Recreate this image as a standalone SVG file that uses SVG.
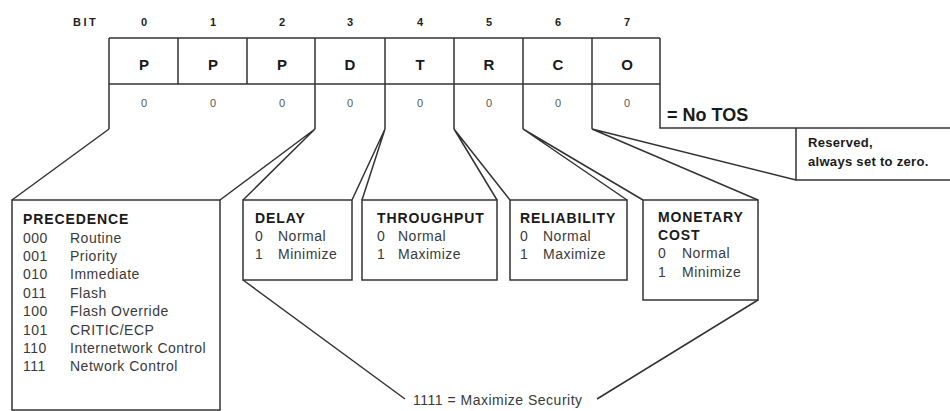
<svg xmlns="http://www.w3.org/2000/svg" width="950" height="411" viewBox="0 0 950 411">
<style>
  .ln{fill:none;stroke:#333;stroke-width:1.5;stroke-linejoin:miter}
  .box{fill:#fff;stroke:#333;stroke-width:1.5}
  .hd{font-family:"Liberation Sans",Arial,sans-serif;font-weight:bold;font-size:14px;fill:#1a1a1a;letter-spacing:0.9px}
  .tx{font-family:"Liberation Sans",Arial,sans-serif;font-size:14px;fill:#3a3a3a;letter-spacing:0.5px}
  .bit{font-family:"Liberation Sans",Arial,sans-serif;font-weight:bold;font-size:11px;fill:#222;text-anchor:middle}
  .cell{font-family:"Liberation Sans",Arial,sans-serif;font-weight:bold;font-size:15px;fill:#1a1a1a;text-anchor:middle}
  .zero{font-family:"Liberation Sans",Arial,sans-serif;font-size:11px;fill:#555;text-anchor:middle}
</style>
<rect width="950" height="411" fill="#fff"/>

<g id="bit-header">
  <text class="bit" x="73" y="26" style="text-anchor:start;letter-spacing:2.5px">BIT</text>
  <text class="bit" x="144" y="26">0</text>
  <text class="bit" x="213" y="26">1</text>
  <text class="bit" x="282" y="26">2</text>
  <text class="bit" x="350" y="26">3</text>
  <text class="bit" x="420" y="26">4</text>
  <text class="bit" x="489" y="26">5</text>
  <text class="bit" x="558" y="26">6</text>
  <text class="bit" x="627" y="26">7</text>
</g>

<g id="tos-byte">
  <path class="ln" d="M109,38 H660 M109,84 H660 M178,38 V84 M247,38 V84"/>
  <path class="ln" d="M109,38 V129 M315,38 V129 M385,38 V129 M454,38 V129 M523,38 V129 M592,38 V129 M660,38 V128 H950"/>
  <text class="cell" x="144" y="70">P</text>
  <text class="cell" x="213" y="70">P</text>
  <text class="cell" x="282" y="70">P</text>
  <text class="cell" x="350" y="70">D</text>
  <text class="cell" x="420" y="70">T</text>
  <text class="cell" x="489" y="70">R</text>
  <text class="cell" x="558" y="70">C</text>
  <text class="cell" x="627" y="70">O</text>
  <text class="zero" x="144" y="107">0</text>
  <text class="zero" x="213" y="107">0</text>
  <text class="zero" x="282" y="107">0</text>
  <text class="zero" x="350" y="107">0</text>
  <text class="zero" x="420" y="107">0</text>
  <text class="zero" x="489" y="107">0</text>
  <text class="zero" x="558" y="107">0</text>
  <text class="zero" x="627" y="107">0</text>
  <text x="667" y="121" style="font-family:'Liberation Sans',Arial,sans-serif;font-weight:bold;font-size:18px;fill:#1a1a1a">= No TOS</text>
</g>

<g id="connectors">
  <path class="ln" d="M109,129 L12,200"/>
  <path class="ln" d="M315,129 L220,200 M315,129 L243,200"/>
  <path class="ln" d="M385,129 L352,200 M385,129 L362,200"/>
  <path class="ln" d="M454,129 L497,200 M454,129 L510,200"/>
  <path class="ln" d="M523,129 L627,200 M523,129 L643,200"/>
  <path class="ln" d="M592,129 L758,200 M592,129 L796,180"/>
  <path class="ln" d="M243,280 L405,399"/>
  <path class="ln" d="M758,300 L597,399"/>
</g>

<g id="reserved">
  <path class="ln" d="M796,128 V180 H950"/>
  <text class="hd" x="808" y="147" style="font-size:13px;letter-spacing:0.3px">Reserved,</text>
  <text class="hd" x="808" y="166" style="font-size:13px;letter-spacing:0.3px">always set to zero.</text>
</g>

<g id="precedence">
  <rect class="box" x="12" y="200" width="208" height="210"/>
  <text class="hd" x="23" y="224">PRECEDENCE</text>
  <g class="tx">
    <text x="23" y="243">000</text><text x="70" y="243">Routine</text>
    <text x="23" y="261">001</text><text x="70" y="261">Priority</text>
    <text x="23" y="279">010</text><text x="70" y="279">Immediate</text>
    <text x="23" y="298">011</text><text x="70" y="298">Flash</text>
    <text x="23" y="316">100</text><text x="70" y="316">Flash Override</text>
    <text x="23" y="335">101</text><text x="70" y="335">CRITIC/ECP</text>
    <text x="23" y="353">110</text><text x="70" y="353">Internetwork Control</text>
    <text x="23" y="371">111</text><text x="70" y="371">Network Control</text>
  </g>
</g>

<g id="delay">
  <rect class="box" x="243" y="200" width="109" height="80"/>
  <text class="hd" x="255" y="223">DELAY</text>
  <g class="tx">
    <text x="255" y="241">0</text><text x="278" y="241">Normal</text>
    <text x="255" y="259">1</text><text x="278" y="259">Minimize</text>
  </g>
</g>

<g id="throughput">
  <rect class="box" x="362" y="200" width="135" height="80"/>
  <text class="hd" x="377" y="223">THROUGHPUT</text>
  <g class="tx">
    <text x="377" y="241">0</text><text x="398" y="241">Normal</text>
    <text x="377" y="259">1</text><text x="398" y="259">Maximize</text>
  </g>
</g>

<g id="reliability">
  <rect class="box" x="510" y="200" width="117" height="80"/>
  <text class="hd" x="520" y="223">RELIABILITY</text>
  <g class="tx">
    <text x="520" y="241">0</text><text x="543" y="241">Normal</text>
    <text x="520" y="259">1</text><text x="543" y="259">Maximize</text>
  </g>
</g>

<g id="monetary-cost">
  <rect class="box" x="643" y="200" width="115" height="100"/>
  <text class="hd" x="658" y="222">MONETARY</text>
  <text class="hd" x="658" y="240">COST</text>
  <g class="tx">
    <text x="658" y="258">0</text><text x="682" y="258">Normal</text>
    <text x="658" y="277">1</text><text x="682" y="277">Minimize</text>
  </g>
</g>

<g id="security">
  <text class="tx" x="413" y="405">1111 = Maximize Security</text>
</g>
</svg>
